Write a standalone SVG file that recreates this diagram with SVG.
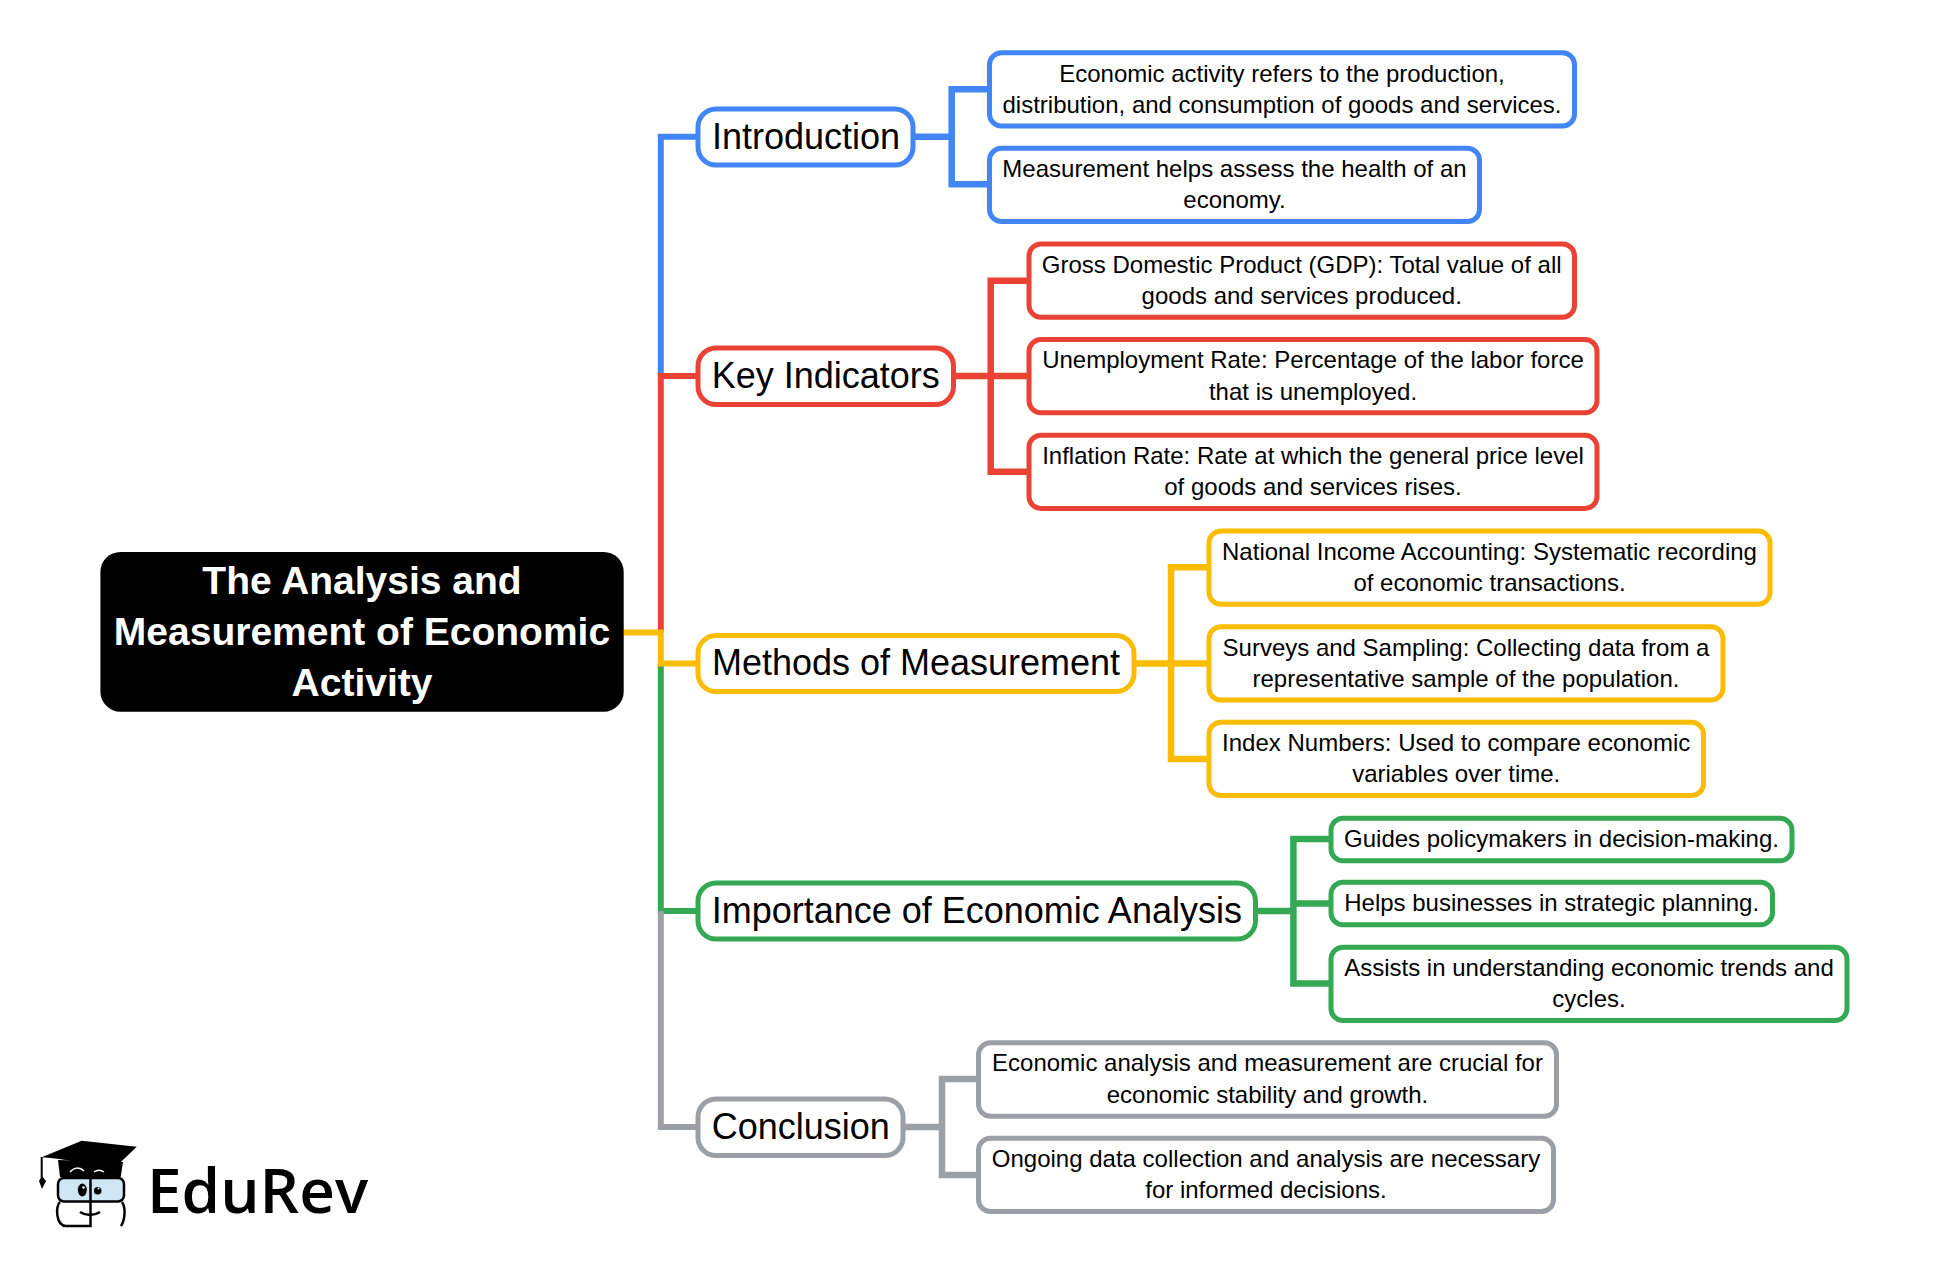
<svg xmlns="http://www.w3.org/2000/svg" width="1950" height="1264" viewBox="0 0 1950 1264">
<style>
text{font-family:"Liberation Sans",Arial,sans-serif;text-anchor:middle;fill:#000}
.l1{font-size:36px}.l2{font-size:24px}
.root{font-size:39px;font-weight:700;fill:#fff}
.n1,.n2{fill:#fff;stroke-width:5}
.blue{stroke:#4285f4}.red{stroke:#ea4335}.yellow{stroke:#fbbc04}.green{stroke:#34a853}.grey{stroke:#9aa0a6}
#connectors path{fill:none;stroke-width:6.500}
#connectors .t{stroke-width:6}
</style>
<g id="connectors">
<path class="blue t" d="M698 136.700H660.800V376"/>
<path class="red t" d="M698 376H660.800V633"/>
<path class="green t" d="M660.800 663.500V911H698"/>
<path class="grey t" d="M660.800 911V1127H698"/>
<path class="yellow t" d="M623.700 632.500H660.800V663.500H698"/>
<path class="blue" d="M913 136.700H951.700M989.500 89.300H951.700V184.300H989.500"/>
<path class="red" d="M953 376H1029M1029 280.700H990.700V471.700H1029"/>
<path class="yellow" d="M1134 663.500H1209M1209 567.300H1171V759H1209"/>
<path class="green" d="M1255 911H1293.400M1293.400 903.500H1331M1331 839H1293.400V983.500H1331"/>
<path class="grey" d="M903 1127H942M978.500 1079H942V1175H978.500"/>
</g>
<g id="root"><rect x="100.400" y="552" width="523.300" height="159.700" rx="20" fill="#000"/>
<text class="root" x="362" y="594.300">The Analysis and</text><text class="root" x="362" y="645.300">Measurement of Economic</text><text class="root" x="362" y="695.500">Activity</text></g>
<g id="introduction"><rect class="n1 blue" x="698" y="109" width="215" height="56" rx="18"/><text class="l1" x="806" y="149.300">Introduction</text></g>
<g id="key-indicators"><rect class="n1 red" x="698" y="348" width="255.500" height="56.500" rx="18"/><text class="l1" x="825.800" y="387.700">Key Indicators</text></g>
<g id="methods"><rect class="n1 yellow" x="698" y="635.500" width="436" height="56" rx="18"/><text class="l1" x="916" y="675.300">Methods of Measurement</text></g>
<g id="importance"><rect class="n1 green" x="698" y="883" width="557.500" height="56" rx="18"/><text class="l1" x="976.800" y="922.500">Importance of Economic Analysis</text></g>
<g id="conclusion"><rect class="n1 grey" x="698" y="1099" width="205" height="56.500" rx="18"/><text class="l1" x="800.800" y="1138.500">Conclusion</text></g>
<g id="intro-1"><rect class="n2 blue" x="989.500" y="52.700" width="585" height="73.300" rx="12"/><text class="l2" x="1282" y="81.500">Economic activity refers to the production,</text><text class="l2" x="1282" y="112.500">distribution, and consumption of goods and services.</text></g>
<g id="intro-2"><rect class="n2 blue" x="989.500" y="148.300" width="490" height="73.300" rx="12"/><text class="l2" x="1234.500" y="177">Measurement helps assess the health of an</text><text class="l2" x="1234.500" y="208">economy.</text></g>
<g id="key-1"><rect class="n2 red" x="1029" y="244" width="545.500" height="73.300" rx="12"/><text class="l2" x="1301.700" y="272.500">Gross Domestic Product (GDP): Total value of all</text><text class="l2" x="1301.700" y="304">goods and services produced.</text></g>
<g id="key-2"><rect class="n2 red" x="1029" y="339.500" width="568" height="73.300" rx="12"/><text class="l2" x="1313" y="368">Unemployment Rate: Percentage of the labor force</text><text class="l2" x="1313" y="399.500">that is unemployed.</text></g>
<g id="key-3"><rect class="n2 red" x="1029" y="435.300" width="568" height="73.300" rx="12"/><text class="l2" x="1313" y="464">Inflation Rate: Rate at which the general price level</text><text class="l2" x="1313" y="495">of goods and services rises.</text></g>
<g id="methods-1"><rect class="n2 yellow" x="1209" y="531" width="561" height="73.300" rx="12"/><text class="l2" x="1489.500" y="559.500">National Income Accounting: Systematic recording</text><text class="l2" x="1489.500" y="591">of economic transactions.</text></g>
<g id="methods-2"><rect class="n2 yellow" x="1209" y="626.700" width="514" height="73.300" rx="12"/><text class="l2" x="1466" y="655.500">Surveys and Sampling: Collecting data from a</text><text class="l2" x="1466" y="687">representative sample of the population.</text></g>
<g id="methods-3"><rect class="n2 yellow" x="1209" y="722.300" width="494.500" height="73.300" rx="12"/><text class="l2" x="1456.200" y="751">Index Numbers: Used to compare economic</text><text class="l2" x="1456.200" y="782">variables over time.</text></g>
<g id="importance-1"><rect class="n2 green" x="1331" y="818.300" width="461" height="42.400" rx="12"/><text class="l2" x="1561.500" y="847">Guides policymakers in decision-making.</text></g>
<g id="importance-2"><rect class="n2 green" x="1331" y="882.300" width="441.500" height="42.400" rx="12"/><text class="l2" x="1551.700" y="911">Helps businesses in strategic planning.</text></g>
<g id="importance-3"><rect class="n2 green" x="1331" y="947.300" width="516" height="73.300" rx="12"/><text class="l2" x="1589" y="976">Assists in understanding economic trends and</text><text class="l2" x="1589" y="1007">cycles.</text></g>
<g id="conclusion-1"><rect class="n2 grey" x="978.500" y="1042.700" width="578" height="73.600" rx="12"/><text class="l2" x="1267.500" y="1071">Economic analysis and measurement are crucial for</text><text class="l2" x="1267.500" y="1102.500">economic stability and growth.</text></g>
<g id="conclusion-2"><rect class="n2 grey" x="978.500" y="1138.300" width="575" height="73.300" rx="12"/><text class="l2" x="1266" y="1167">Ongoing data collection and analysis are necessary</text><text class="l2" x="1266" y="1198">for informed decisions.</text></g>
<g id="logo">
<path d="M58 1160L123 1162L120.700 1177H60Z" fill="#000"/>
<path d="M41.700 1157.300L81.700 1140.700L136.700 1146.700L111.700 1170.700C90 1164 65 1159 41.700 1157.300Z" fill="#000"/>
<path d="M70 1172C74 1167 80 1167 84 1171M94 1172C97 1170 101 1170 104 1172" fill="none" stroke="#fff" stroke-width="1.500"/>
<path d="M41.700 1157V1178" stroke="#000" stroke-width="2" fill="none"/>
<path d="M42 1176L46 1181L42 1189L39 1181Z" fill="#000"/>
<rect x="58" y="1178" width="66" height="23.500" rx="6" fill="#cfe6f5" stroke="#000" stroke-width="2.500"/>
<path d="M60 1202C55 1206 56 1226 66 1226H90.500V1176M122 1202C126 1208 125 1220 121 1226M80 1212C86 1216 94 1216 100 1212" fill="none" stroke="#000" stroke-width="2.500"/>
<ellipse cx="82.300" cy="1190" rx="4.500" ry="6.500" fill="#000"/><circle cx="97.700" cy="1190.700" r="3.800" fill="#000"/>
<circle cx="83.500" cy="1187.500" r="1.300" fill="#fff"/><circle cx="98.500" cy="1188.500" r="1" fill="#fff"/>
<text x="257.500" y="1213" style="font-family:'Open Sans','Noto Sans',sans-serif;font-size:62px;font-weight:600">EduRev</text>
</g>
</svg>
